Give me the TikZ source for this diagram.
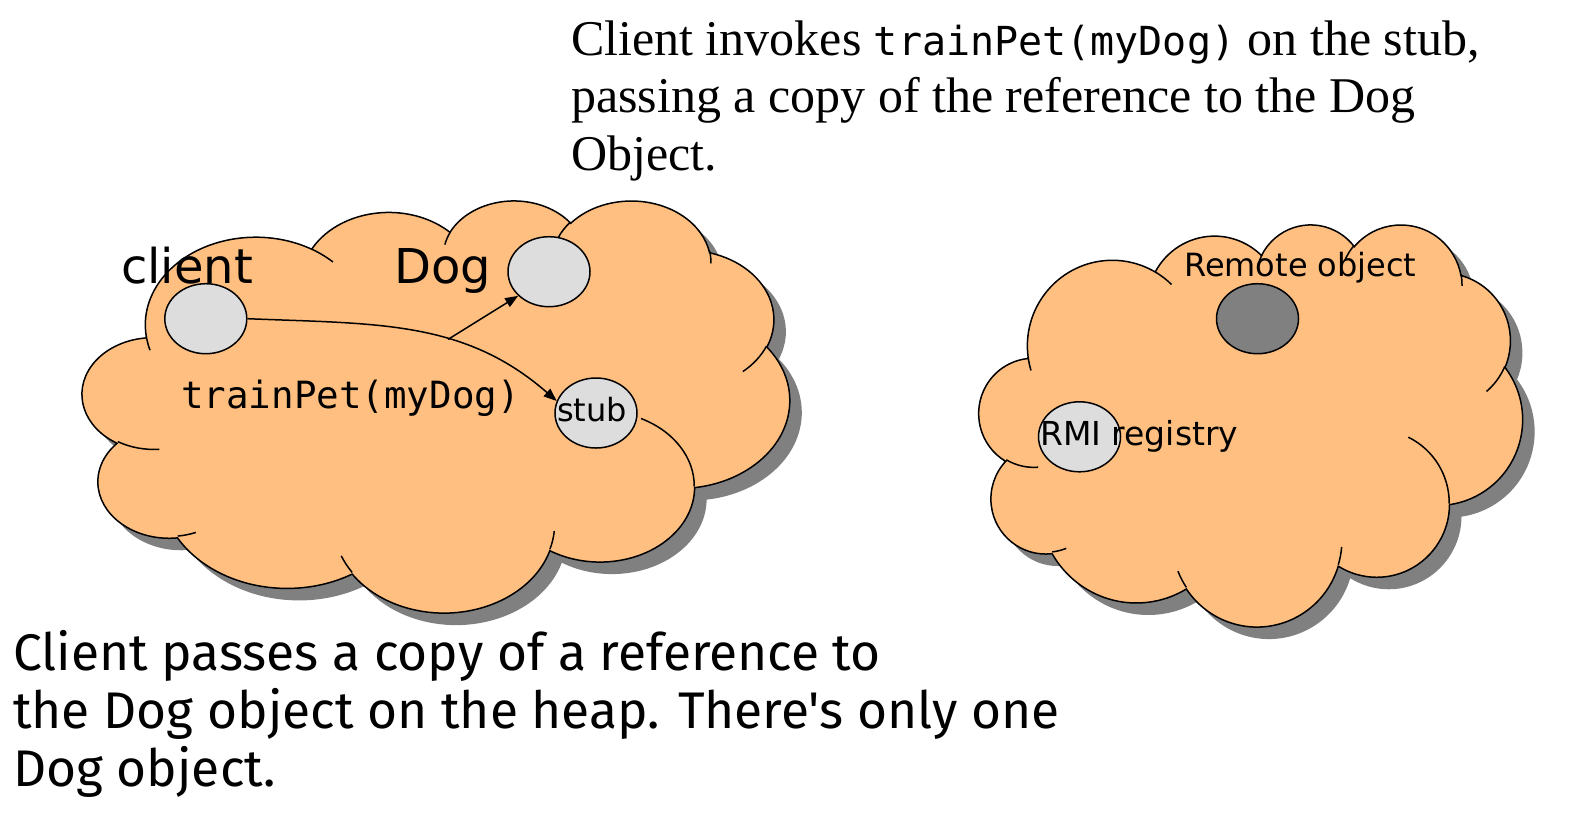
\documentclass[tikz,border=0pt]{standalone}
\usepackage{fontspec}
\setmainfont{Liberation Serif}
\newfontfamily\labelfont{DejaVu Sans}
\newfontfamily\codefont{DejaVu Sans Mono}
\newfontfamily\handfont{Fira Sans}
\usepackage{xcolor}
\usetikzlibrary{arrows.meta,shapes.geometric}
\definecolor{cloudOrange}{HTML}{FFBF80}
\definecolor{objGray}{HTML}{DDDDDD}
\definecolor{remoteGray}{HTML}{808080}
\definecolor{shadowGray}{HTML}{808080}

% lobe of a cloud: radii, start and sweep angle (angles measured on the ellipse as seen)
\newcommand\cloudcalc[4]{%
  \pgfmathsetmacro\cta{atan2(#1*sin(#3),#2*cos(#3))}%
  \pgfmathsetmacro\ctb{atan2(#1*sin(#3+#4),#2*cos(#3+#4))}%
  \pgfmathsetmacro\ctd{mod(\ctb-\cta+720,360)}}
\newcommand\carc[4]{\pgfextra{\cloudcalc{#1}{#2}{#3}{#4}}
  arc[start angle=\cta, delta angle=\ctd, x radius=#1, y radius=#2]}
% outline of the cloud in a 432 x 432 frame
\newcommand\cloudoutline{(39.00,143.70)
  \carc{67.53}{91.90}{-190.4875}{123.7805}
  \carc{53.33}{72.67}{-144.1024}{89.9452}
  \carc{43.65}{59.45}{-145.8079}{99.7230}
  \carc{48.57}{65.95}{-130.9861}{117.2417}
  \carc{53.33}{72.73}{-78.7089}{109.0269}
  \carc{67.75}{92.20}{-46.2673}{130.2690}
  \carc{57.85}{78.67}{0.6250}{114.0333}
  \carc{67.52}{92.15}{22.4516}{115.1726}
  \carc{77.20}{105.43}{66.2426}{75.7110}
  \carc{43.60}{59.18}{-274.9421}{146.7356}
  \carc{43.45}{59.45}{-246.8285}{152.5189}
  -- cycle}
% the short strokes where the lobes overlap
\newcommand\cloudinner{%
  (46.93,261.77) \carc{43.45}{59.45}{86.7420}{26.4295}
  (69.28,348.99) \carc{43.60}{59.18}{73.6105}{11.4475}
  (164.78,390.90) \carc{67.52}{92.15}{137.6242}{14.0811}
  (288.27,347.51) \carc{67.52}{92.15}{6.4533}{15.9984}
  (341.29,229.54) \carc{57.85}{78.67}{-70.2924}{70.9174}
  (417.98,153.54) \carc{53.33}{72.73}{30.3180}{27.7515}
  (383.24,54.26) \carc{48.57}{65.95}{-13.7443}{14.8589}
  (290.78,39.52) \carc{48.57}{65.95}{-149.1815}{18.1954}
  (221.41,47.20) \carc{43.65}{59.45}{-163.4943}{17.6864}
  (140.00,51.92) \carc{67.53}{91.90}{-66.7070}{12.3194}
  (41.27,157.89) \carc{67.53}{91.90}{157.6544}{11.8582}}
% cloud with its shadow: left, top, width, height
\newcommand\pptcloud[4]{%
  \pgfmathsetmacro\cloudsx{#3/432}\pgfmathsetmacro\cloudsy{#4/432}%
  \begin{scope}[shift={(#1+12,#2+12)}, x=\cloudsx pt, y=-\cloudsy pt]
    \fill[shadowGray] \cloudoutline;
  \end{scope}
  \begin{scope}[shift={(#1,#2)}, x=\cloudsx pt, y=-\cloudsy pt]
    \filldraw[cloudbody] \cloudoutline;
    \draw[cloudline] \cloudinner;
  \end{scope}}

\begin{document}
\begin{tikzpicture}[x=1pt, y=-1pt,
  cloudbody/.style={fill=cloudOrange, draw=black, line width=1.5pt},
  cloudline/.style={draw=black, line width=1.5pt},
  obj/.style={ellipse, draw, line width=1.5pt, fill=objGray,
    minimum width=82pt, minimum height=70pt, inner sep=0pt},
  link/.style={line width=1.5pt, -{Triangle[length=13pt,width=10pt]}},
  lbl/.style={anchor=base west, inner sep=0pt},
  note/.style={anchor=base west, align=left, inner sep=0pt}]
\useasboundingbox[fill=white] (0,0) rectangle (1594,815);
% clouds
\pptcloud{82.5}{199.6}{707}{412}
\pptcloud{979.1}{223.6}{543.3}{402}
% objects
\node[obj] (client) at (205.8,318.7) {};
\node[obj] (Dog) at (549,271.7) {};
\node[obj] (stub) at (596,413) {};
\node[obj, fill=remoteGray] (remote) at (1257.5,318.7) {};
\node[obj] (registry) at (1079.5,436.8) {};
% calls
\draw[link] (client.east) .. controls (377,324) and (464,320) .. (stub.163)
  coordinate[pos=0.61] (fork);
\draw[link] (fork) -- (Dog.218);
% labels
\node[lbl, font=\labelfont\fontsize{48}{58}\selectfont] (clientlbl) at (121,283) {client};
\node[lbl, font=\labelfont\fontsize{48}{58}\selectfont] (doglbl) at (394,283) {Dog};
\node[lbl, font=\codefont\fontsize{37.5}{44}\selectfont] (calllbl) at (181,408) {trainPet(myDog)};
\node[lbl, font=\labelfont\fontsize{32}{38}\selectfont] (stublbl) at (557,421) {stub};
\node[lbl, font=\labelfont\fontsize{32}{38}\selectfont] (remotelbl) at (1184,276) {Remote object};
\node[lbl, font=\labelfont\fontsize{33}{40}\selectfont] (registrylbl) at (1040,445) {RMI registry};
% notes (anchored at the baseline of their last line)
\node[note, font=\fontsize{50}{57.6}\selectfont] (invoke) at (571,170.2)
  {Client invokes {\codefont\fontsize{40}{48}\selectfont trainPet(myDog)} on the stub,\\
   passing a copy of the reference to the Dog\\
   Object.};
\node[note, font=\handfont\fontsize{51.5}{58.3}\selectfont] (passes) at (13,786.6)
  {Client passes a copy of a reference to\\
   the Dog object on the heap. There's only one\\
   Dog object.};
\end{tikzpicture}
\end{document}
